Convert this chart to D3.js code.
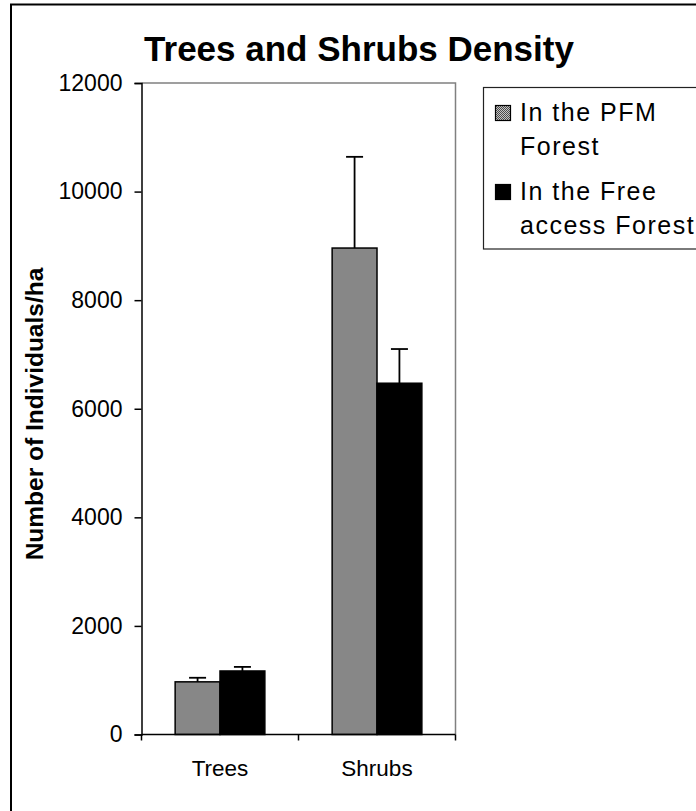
<!DOCTYPE html>
<html>
<head>
<meta charset="utf-8">
<script src="https://cdn.jsdelivr.net/npm/d3@7"></script>
<style>
  html, body { margin: 0; padding: 0; background: #fff; }
  svg { display: block; font-family: 'Liberation Sans', Arial, sans-serif; }
</style>
</head>
<body>
<div id="report"></div>
<script>
const categories = ['Trees', 'Shrubs'];
const seriesNames = ['In the PFM Forest', 'In the Free access Forest'];
const pfmValues = [970, 8960];
const pfmErrors = [75, 1680];
const freeValues = [1170, 6470];
const freeErrors = [75, 630];
const yTicks = [0, 2000, 4000, 6000, 8000, 10000, 12000];
const legendLines = [['In the PFM', 'Forest'], ['In the Free', 'access Forest']];

const width = 696;
const height = 811;

const svg = d3.select('#report')
  .append('svg')
  .attr('width', width)
  .attr('height', height);

// grey dotted fill like the old excel pattern
const pattern = svg.append('defs')
  .append('pattern')
  .attr('id', 'dots')
  .attr('width', 2)
  .attr('height', 2)
  .attr('patternUnits', 'userSpaceOnUse');
pattern.append('rect').attr('width', 2).attr('height', 2).attr('fill', '#c4c4c4');
pattern.append('rect').attr('width', 1).attr('height', 1).attr('fill', '#4a4a4a');
pattern.append('rect').attr('x', 1).attr('y', 1).attr('width', 1).attr('height', 1).attr('fill', '#4a4a4a');

const fills = ['url(#dots)', '#000'];

// outer chart frame (only top and left are inside the picture)
svg.append('rect')
  .attr('x', 11)
  .attr('y', 4.5)
  .attr('width', 900)
  .attr('height', 900)
  .attr('fill', 'none')
  .attr('stroke', '#000')
  .attr('stroke-width', 2);

const plot = { left: 141.5, right: 455.5, top: 83, bottom: 734.5 };

const y = d3.scaleLinear()
  .domain([0, 12000])
  .range([plot.bottom, plot.top]);

const x = d3.scaleBand()
  .domain(categories)
  .range([plot.left, plot.right])
  .padding(0);

const xInner = d3.scaleBand()
  .domain(seriesNames)
  .range([0, x.bandwidth()])
  .paddingInner(0)
  .paddingOuter(0.75);

const data = categories.map((c, i) => [
  { cat: c, series: seriesNames[0], value: pfmValues[i], err: pfmErrors[i] },
  { cat: c, series: seriesNames[1], value: freeValues[i], err: freeErrors[i] },
]);

function renderTitle() {
  svg.append('text')
    .attr('x', 359)
    .attr('y', 61)
    .attr('text-anchor', 'middle')
    .style('font-size', '35px')
    .style('font-weight', 'bold')
    .text('Trees and Shrubs Density');
}

function renderPlotFrame() {
  svg.append('path')
    .attr('d', `M${plot.left},${plot.top}H${plot.right}V${plot.bottom}`)
    .attr('fill', 'none')
    .attr('stroke', '#808080')
    .attr('stroke-width', 1.5);
}

function renderBars() {
  const groups = svg.append('g')
    .selectAll('g')
    .data(data)
    .enter()
    .append('g')
    .attr('transform', d => `translate(${x(d[0].cat)},0)`);

  groups.selectAll('rect')
    .data(d => d)
    .enter()
    .append('rect')
    .attr('x', d => xInner(d.series))
    .attr('y', d => y(d.value))
    .attr('width', xInner.bandwidth())
    .attr('height', d => y(0) - y(d.value))
    .attr('fill', (d, i) => fills[i])
    .attr('stroke', '#000')
    .attr('stroke-width', 1.5);

  // error bars, plus side only
  const err = groups.selectAll('g.err')
    .data(d => d)
    .enter()
    .append('g')
    .attr('class', 'err')
    .attr('stroke', '#000')
    .attr('stroke-width', 1.8);

  err.append('line')
    .attr('x1', d => xInner(d.series) + xInner.bandwidth() / 2)
    .attr('x2', d => xInner(d.series) + xInner.bandwidth() / 2)
    .attr('y1', d => y(d.value))
    .attr('y2', d => y(d.value + d.err));

  err.append('line')
    .attr('x1', d => xInner(d.series) + xInner.bandwidth() / 2 - 8.5)
    .attr('x2', d => xInner(d.series) + xInner.bandwidth() / 2 + 8.5)
    .attr('y1', d => y(d.value + d.err))
    .attr('y2', d => y(d.value + d.err));
}

function renderYAxis() {
  const axis = svg.append('g')
    .attr('transform', `translate(${plot.left},0)`)
    .call(d3.axisLeft(y).tickValues(yTicks).tickSize(7).tickPadding(12).tickFormat(d3.format('d')));
  axis.select('.domain').attr('stroke', '#000').attr('stroke-width', 1.5);
  axis.selectAll('.tick line').attr('stroke', '#000').attr('stroke-width', 1.5);
  axis.selectAll('.tick text')
    .style('font-size', '23px')
    .style('font-family', "'Liberation Sans', Arial, sans-serif")
    .attr('fill', '#000');

  svg.append('text')
    .attr('transform', 'translate(43,414) rotate(-90)')
    .attr('text-anchor', 'middle')
    .style('font-size', '24.5px')
    .style('font-weight', 'bold')
    .text('Number of Individuals/ha');
}

function renderXAxis() {
  const g = svg.append('g');
  g.append('line')
    .attr('x1', plot.left)
    .attr('x2', plot.right)
    .attr('y1', plot.bottom)
    .attr('y2', plot.bottom)
    .attr('stroke', '#000')
    .attr('stroke-width', 1.5);

  const edges = categories.map(c => x(c)).concat([x.range()[1]]);
  g.selectAll('line.tick')
    .data(edges)
    .enter()
    .append('line')
    .attr('class', 'tick')
    .attr('x1', d => d)
    .attr('x2', d => d)
    .attr('y1', plot.bottom)
    .attr('y2', plot.bottom + 6)
    .attr('stroke', '#000')
    .attr('stroke-width', 1.5);

  g.selectAll('text')
    .data(categories)
    .enter()
    .append('text')
    .attr('x', d => x(d) + x.bandwidth() / 2)
    .attr('y', 776)
    .attr('text-anchor', 'middle')
    .style('font-size', '22.5px')
    .text(d => d);
}

function renderLegend() {
  const g = svg.append('g');
  g.append('rect')
    .attr('x', 483.5)
    .attr('y', 87.5)
    .attr('width', 300)
    .attr('height', 161.5)
    .attr('fill', '#fff')
    .attr('stroke', '#222')
    .attr('stroke-width', 1.2);

  const entryY = [121, 200];
  seriesNames.forEach((name, i) => {
    g.append('rect')
      .attr('x', 495.5)
      .attr('y', entryY[i] - 15.5)
      .attr('width', 15)
      .attr('height', 15)
      .attr('fill', fills[i])
      .attr('stroke', '#000')
      .attr('stroke-width', 1.2);

    g.append('text')
      .attr('x', 520)
      .attr('y', entryY[i])
      .style('font-size', '25px')
      .style('letter-spacing', '1.5px')
      .selectAll('tspan')
      .data(legendLines[i])
      .enter()
      .append('tspan')
      .attr('x', 520)
      .attr('dy', (d, j) => (j === 0 ? 0 : 34))
      .text(d => d);
  });
}

renderTitle();
renderPlotFrame();
renderBars();
renderYAxis();
renderXAxis();
renderLegend();
</script>
</body>
</html>
